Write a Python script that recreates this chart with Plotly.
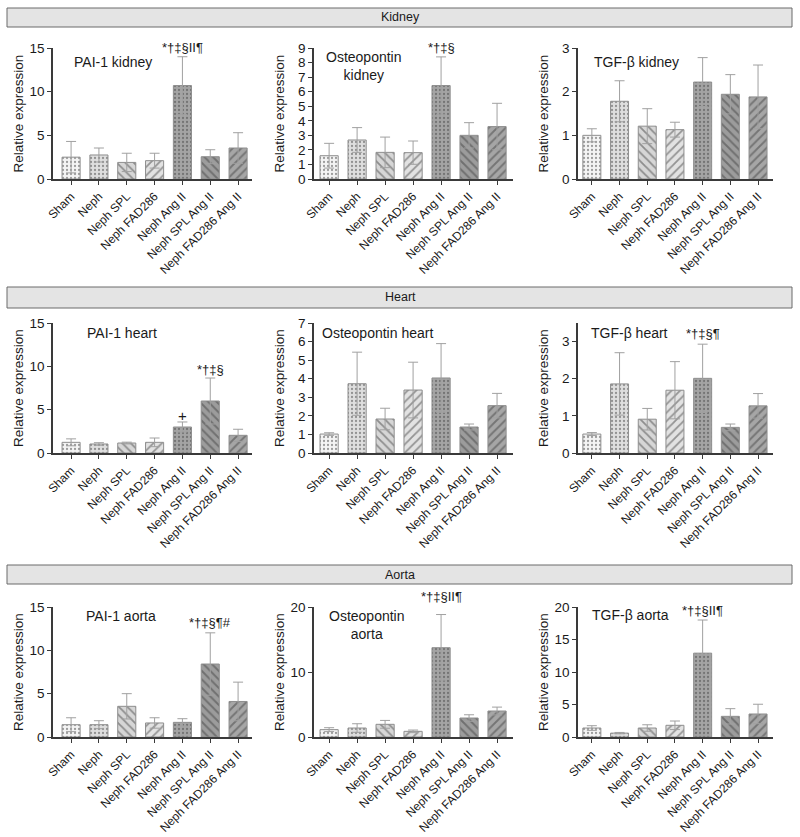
import plotly.graph_objects as go

categories = ["Sham", "Neph", "Neph SPL", "Neph FAD286", "Neph Ang II",
              "Neph SPL Ang II", "Neph FAD286 Ang II"]

# Means and error values per panel
pai1_kidney = [2.5, 2.75, 1.9, 2.1, 10.7, 2.55, 3.55]
pai1_kidney_err = [1.8, 0.8, 1.05, 0.85, 3.3, 0.8, 1.75]
opn_kidney = [1.6, 2.68, 1.83, 1.81, 6.42, 3.0, 3.6]
opn_kidney_err = [0.85, 0.85, 1.05, 0.8, 1.97, 0.87, 1.6]
tgf_kidney = [1.0, 1.78, 1.21, 1.13, 2.22, 1.94, 1.88]
tgf_kidney_err = [0.15, 0.47, 0.4, 0.17, 0.56, 0.45, 0.73]

pai1_heart = [1.23, 1.04, 1.15, 1.23, 3.0, 6.0, 2.04]
pai1_heart_err = [0.4, 0.15, 0.1, 0.5, 0.58, 2.65, 0.7]
opn_heart = [1.02, 3.73, 1.83, 3.39, 4.04, 1.4, 2.55]
opn_heart_err = [0.07, 1.7, 0.58, 1.5, 1.85, 0.16, 0.66]
tgf_heart = [0.51, 1.86, 0.91, 1.69, 2.01, 0.69, 1.27]
tgf_heart_err = [0.04, 0.84, 0.29, 0.77, 0.92, 0.09, 0.33]

pai1_aorta = [1.42, 1.42, 3.54, 1.62, 1.69, 8.42, 4.1]
pai1_aorta_err = [0.8, 0.46, 1.46, 0.6, 0.42, 3.6, 2.23]
opn_aorta = [1.13, 1.38, 1.95, 0.87, 13.74, 2.92, 4.0]
opn_aorta_err = [0.3, 0.66, 0.6, 0.2, 5.1, 0.5, 0.6]
tgf_aorta = [1.38, 0.6, 1.38, 1.8, 12.9, 3.18, 3.54]
tgf_aorta_err = [0.36, 0.1, 0.5, 0.66, 5.1, 1.18, 1.5]

section_titles = ["Kidney", "Heart", "Aorta"]
panel_titles = [["PAI-1 kidney", "Osteopontin<br>kidney", "TGF-β kidney"],
                ["PAI-1 heart", "Osteopontin heart", "TGF-β heart"],
                ["PAI-1 aorta", "Osteopontin<br>aorta", "TGF-β aorta"]]
panel_data = [[(pai1_kidney, pai1_kidney_err), (opn_kidney, opn_kidney_err), (tgf_kidney, tgf_kidney_err)],
              [(pai1_heart, pai1_heart_err), (opn_heart, opn_heart_err), (tgf_heart, tgf_heart_err)],
              [(pai1_aorta, pai1_aorta_err), (opn_aorta, opn_aorta_err), (tgf_aorta, tgf_aorta_err)]]
y_ranges = [[15, 9, 3], [15, 7, 3.5], [15, 20, 20]]
y_dticks = [[5, 1, 1], [5, 1, 1], [5, 10, 5]]
# significance marks: (row, col, category index, text)
sig_marks = [(0, 0, 4, "*†‡§II¶"), (0, 1, 4, "*†‡§"),
             (1, 0, 4, "+"), (1, 0, 5, "*†‡§"), (1, 2, 4, "*†‡§¶"),
             (2, 0, 5, "*†‡§¶#"), (2, 1, 4, "*†‡§II¶"), (2, 2, 4, "*†‡§II¶")]

# ---------------- layout geometry (pixels) ----------------
W, H = 800, 837
def px_x(v):
    return v / W
def px_y(v):
    return 1 - v / H

col_px = [(53, 252), (314, 513), (578, 773)]
col_xr = [(-0.65, 6.5), (-0.54, 6.57), (-0.5, 6.54)]
row_px = [(48, 179), (323, 453), (607, 737)]
header_px = [(8, 27), (287, 308), (565, 584)]
title_px = [[(113, 62), (364, 66), (636, 62)],
            [(122, 333), (377, 333), (629, 333)],
            [(121, 616), (367, 625), (630, 615)]]
sig_y_px = {(0, 0, 4): 48, (0, 1, 4): 47, (1, 0, 4): 415, (1, 0, 5): 369,
            (1, 2, 4): 333, (2, 0, 5): 622, (2, 1, 4): 596, (2, 2, 4): 610}

# ---------------- styles ----------------
bar_bg = ["#f4f4f4", "#dedede", "#d6d6d6", "#e2e2e2", "#a4a4a4", "#9c9c9c", "#a6a6a6"]
pat_fg = ["#bdbdbd", "#ababab", "#5e5e5e", "#6e6e6e", "#858585", "#404040", "#484848"]
pat_shape = [".", ".", "\\", "/", ".", "\\", "/"]
pat_size = [4, 4, 6, 6, 4, 6, 6]
pat_sol = [0.25, 0.25, 0.3, 0.3, 0.25, 0.32, 0.32]
font = "Liberation Sans, Arial, sans-serif"
txt_col = "#1a1a1a"

fig = go.Figure()
annotations = []
shapes = []

k = 0
for r in range(3):
    for c in range(3):
        k += 1
        xa = "x" if k == 1 else f"x{k}"
        ya = "y" if k == 1 else f"y{k}"
        vals, errs = panel_data[r][c]
        fig.add_trace(go.Bar(
            x=categories, y=vals, xaxis=xa, yaxis=ya, width=0.65,
            marker=dict(color=bar_bg, line=dict(color="#8e8e8e", width=1),
                        pattern=dict(shape=pat_shape, fgcolor=pat_fg, bgcolor=bar_bg,
                                     size=pat_size, solidity=pat_sol, fillmode="overlay")),
            error_y=dict(type="data", array=errs, color="#a0a0a0", thickness=1, width=5),
            showlegend=False, hoverinfo="x+y"))
        x0, x1 = col_px[c]
        y0, y1 = row_px[r]
        fig.update_layout(**{
            ("xaxis" if k == 1 else f"xaxis{k}"): dict(
                domain=[px_x(x0), px_x(x1)], anchor=ya, range=list(col_xr[c]),
                showline=True, linecolor="#3a3a3a", linewidth=1.5, ticks="outside",
                ticklen=4, tickcolor="#3a3a3a", tickangle=-45, showgrid=False,
                automargin=False,
                tickfont=dict(size=12, color=txt_col, family=font), fixedrange=True),
            ("yaxis" if k == 1 else f"yaxis{k}"): dict(
                domain=[px_y(y1), px_y(y0)], anchor=xa, range=[0, y_ranges[r][c]],
                dtick=y_dticks[r][c], showline=True, linecolor="#3a3a3a", linewidth=1.5,
                ticks="outside", ticklen=4, tickcolor="#3a3a3a", showgrid=False,
                zeroline=False, automargin=False,
                tickfont=dict(size=13.5, color=txt_col, family=font)),
        })
        # y axis title
        annotations.append(dict(text="Relative expression", x=px_x(x0 - 35), y=px_y((y0 + y1) / 2),
                                xref="paper", yref="paper", textangle=-90, showarrow=False,
                                xanchor="center", yanchor="middle",
                                font=dict(size=13.5, color=txt_col, family=font)))
        # panel title
        tx, ty = title_px[r][c]
        annotations.append(dict(text=panel_titles[r][c], x=px_x(tx), y=px_y(ty),
                                xref="paper", yref="paper", xanchor="center", yanchor="middle",
                                showarrow=False, font=dict(size=14, color=txt_col, family=font)))

for (r, c, idx, txt) in sig_marks:
    kk = r * 3 + c + 1
    xa = "x" if kk == 1 else f"x{kk}"
    annotations.append(dict(text=txt, x=categories[idx], y=px_y(sig_y_px[(r, c, idx)]),
                            xref=xa, yref="paper", showarrow=False,
                            xanchor="center", yanchor="middle",
                            font=dict(size=13 if txt != "+" else 15, color=txt_col, family=font)))

for i, (t0, t1) in enumerate(header_px):
    shapes.append(dict(type="rect", xref="paper", yref="paper",
                       x0=px_x(7), x1=px_x(792), y0=px_y(t1), y1=px_y(t0),
                       fillcolor="#e4e4e4", line=dict(color="#6a6a6a", width=1)))
    annotations.append(dict(text=section_titles[i], x=0.5, y=px_y((t0 + t1) / 2),
                            xref="paper", yref="paper", showarrow=False,
                            xanchor="center", yanchor="middle",
                            font=dict(size=12.5, color=txt_col, family=font)))

fig.update_layout(width=W, height=H, margin=dict(l=0, r=0, t=0, b=0, autoexpand=False),
                  plot_bgcolor="white", paper_bgcolor="white",
                  annotations=annotations, shapes=shapes,
                  font=dict(family=font))
fig.write_html("out.html", config={"displayModeBar": False},
               post_script="document.body.style.margin='0';document.body.style.padding='0';"
                           "document.body.style.overflow='hidden';")
